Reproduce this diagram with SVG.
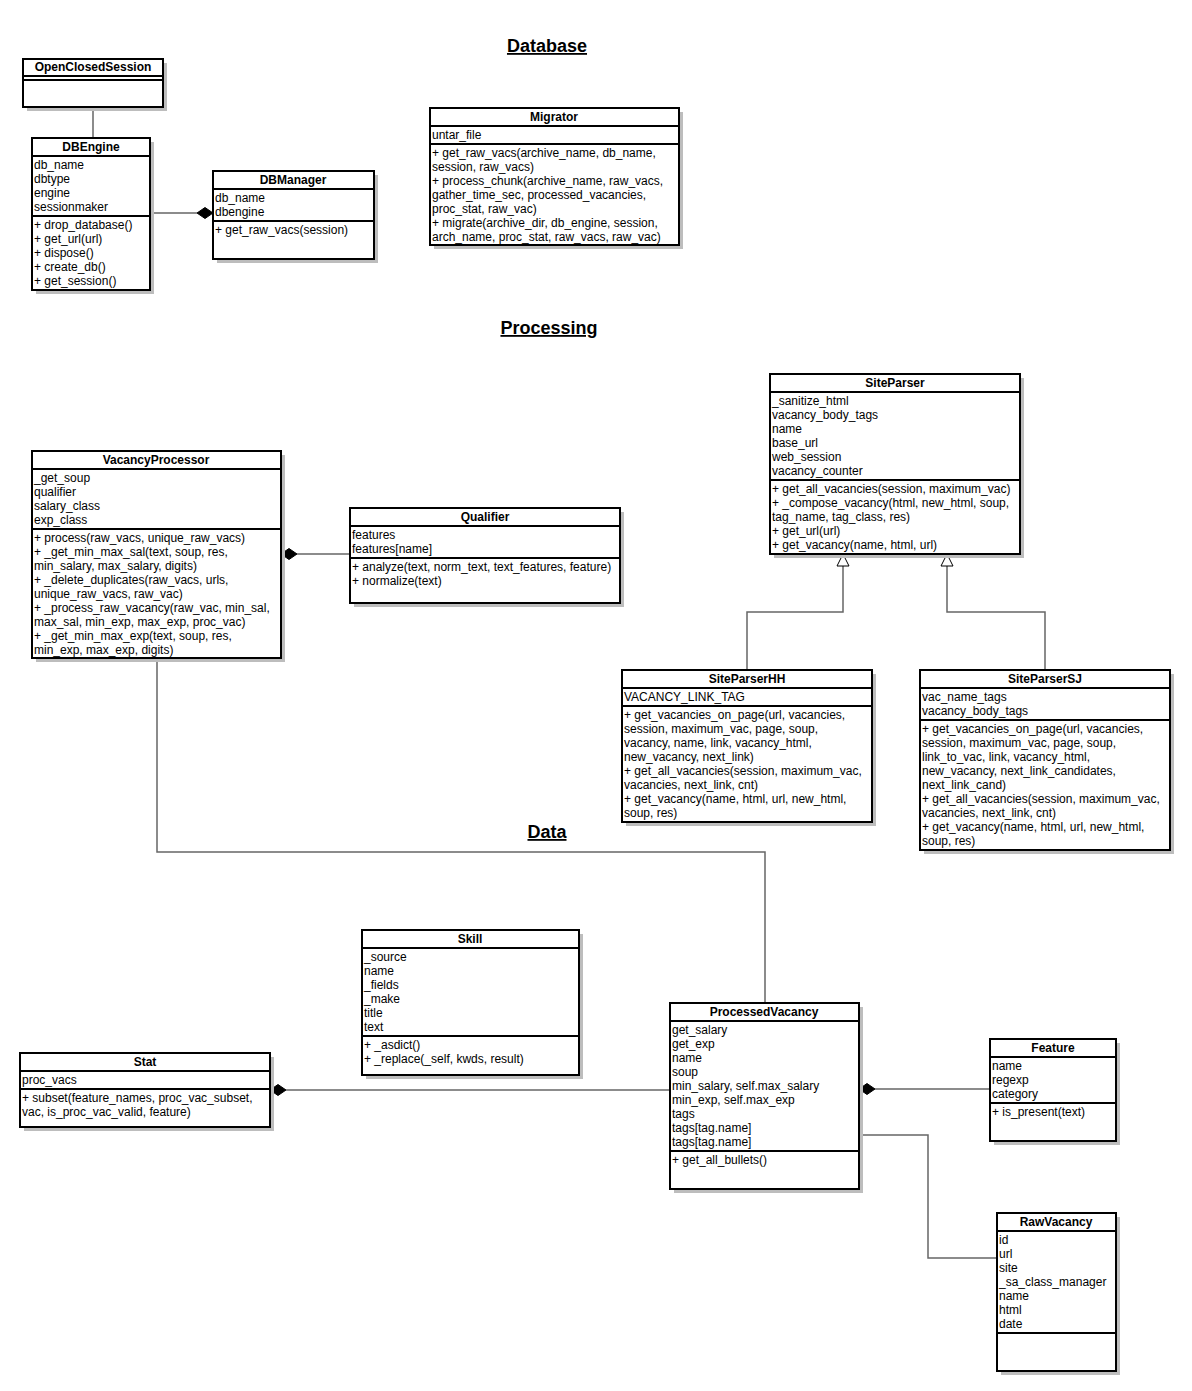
<svg xmlns="http://www.w3.org/2000/svg" width="1192" height="1391" viewBox="0 0 1192 1391">
<style>
.bg{fill:#ffffff}
.sh{fill:#bdbdbd}
.box{fill:#ffffff;stroke:#000000;stroke-width:2}
.sep{stroke:#000000;stroke-width:2}
.t{font-family:"Liberation Sans",Arial,sans-serif;font-size:12px;fill:#000000}
.h{font-family:"Liberation Sans",Arial,sans-serif;font-size:12px;font-weight:bold;fill:#000000;text-anchor:middle}
.sec{font-family:"Liberation Sans",Arial,sans-serif;font-size:18px;font-weight:bold;fill:#000000;text-anchor:middle;text-decoration:underline}
.c{fill:none;stroke:#666666;stroke-width:1.5}
.dia{fill:#000000;stroke:#000000;stroke-width:1}
.tri{fill:#ffffff;stroke:#000000;stroke-width:1}
</style>
<rect class="bg" x="0" y="0" width="1192" height="1391"/>

<g id="titles">
<text class="sec" x="547" y="52">Database</text>
<text class="sec" x="549" y="334">Processing</text>
<text class="sec" x="547" y="838">Data</text>
</g>

<g id="connectors">
<line class="c" x1="93" y1="107" x2="93" y2="138"/>
<line class="c" x1="150" y1="213" x2="197" y2="213"/>
<path class="dia" d="M213,213 L205,207.5 L197,213 L205,218.5 Z"/>
<line class="c" x1="297" y1="554" x2="350" y2="554"/>
<path class="dia" d="M281,554 L289,548.5 L297,554 L289,559.5 Z"/>
<polyline class="c" points="157,658 157,852 765,852 765,1003"/>
<polyline class="c" points="843,566 843,612 747,612 747,670"/>
<path class="tri" d="M843,554 L849,566 L837,566 Z"/>
<polyline class="c" points="947,566 947,612 1045,612 1045,670"/>
<path class="tri" d="M947,554 L953,566 L941,566 Z"/>
<line class="c" x1="286" y1="1090" x2="670" y2="1090"/>
<path class="dia" d="M270,1090 L278,1084.5 L286,1090 L278,1095.5 Z"/>
<line class="c" x1="875" y1="1089" x2="990" y2="1089"/>
<path class="dia" d="M859,1089 L867,1083.5 L875,1089 L867,1094.5 Z"/>
<polyline class="c" points="859,1135 928,1135 928,1258 997,1258"/>
</g>

<g id="OpenClosedSession">
<rect class="sh" x="27" y="63" width="140" height="48"/>
<rect class="box" x="23" y="59" width="140" height="48"/>
<line class="sep" x1="23" y1="76" x2="163" y2="76"/>
<line class="sep" x1="23" y1="80" x2="163" y2="80"/>
<text class="h" x="93" y="71">OpenClosedSession</text>
</g>

<g id="DBEngine">
<rect class="sh" x="36" y="142" width="118" height="152"/>
<rect class="box" x="32" y="138" width="118" height="152"/>
<line class="sep" x1="32" y1="156" x2="150" y2="156"/>
<line class="sep" x1="32" y1="216" x2="150" y2="216"/>
<text class="h" x="91" y="151">DBEngine</text>
<text class="t" x="34" y="169">db_name</text>
<text class="t" x="34" y="183">dbtype</text>
<text class="t" x="34" y="197">engine</text>
<text class="t" x="34" y="211">sessionmaker</text>
<text class="t" x="34" y="229">+ drop_database()</text>
<text class="t" x="34" y="243">+ get_url(url)</text>
<text class="t" x="34" y="257">+ dispose()</text>
<text class="t" x="34" y="271">+ create_db()</text>
<text class="t" x="34" y="285">+ get_session()</text>
</g>

<g id="DBManager">
<rect class="sh" x="217" y="175" width="161" height="88"/>
<rect class="box" x="213" y="171" width="161" height="88"/>
<line class="sep" x1="213" y1="189" x2="374" y2="189"/>
<line class="sep" x1="213" y1="221" x2="374" y2="221"/>
<text class="h" x="293" y="184">DBManager</text>
<text class="t" x="215" y="202">db_name</text>
<text class="t" x="215" y="216">dbengine</text>
<text class="t" x="215" y="234">+ get_raw_vacs(session)</text>
</g>

<g id="Migrator">
<rect class="sh" x="434" y="112" width="249" height="137"/>
<rect class="box" x="430" y="108" width="249" height="137"/>
<line class="sep" x1="430" y1="126" x2="679" y2="126"/>
<line class="sep" x1="430" y1="144" x2="679" y2="144"/>
<text class="h" x="554" y="121">Migrator</text>
<text class="t" x="432" y="139">untar_file</text>
<text class="t" x="432" y="157">+ get_raw_vacs(archive_name, db_name,</text>
<text class="t" x="432" y="171">session, raw_vacs)</text>
<text class="t" x="432" y="185">+ process_chunk(archive_name, raw_vacs,</text>
<text class="t" x="432" y="199">gather_time_sec, processed_vacancies,</text>
<text class="t" x="432" y="213">proc_stat, raw_vac)</text>
<text class="t" x="432" y="227">+ migrate(archive_dir, db_engine, session,</text>
<text class="t" x="432" y="241">arch_name, proc_stat, raw_vacs, raw_vac)</text>
</g>

<g id="VacancyProcessor">
<rect class="sh" x="36" y="455" width="249" height="207"/>
<rect class="box" x="32" y="451" width="249" height="207"/>
<line class="sep" x1="32" y1="469" x2="281" y2="469"/>
<line class="sep" x1="32" y1="529" x2="281" y2="529"/>
<text class="h" x="156" y="464">VacancyProcessor</text>
<text class="t" x="34" y="482">_get_soup</text>
<text class="t" x="34" y="496">qualifier</text>
<text class="t" x="34" y="510">salary_class</text>
<text class="t" x="34" y="524">exp_class</text>
<text class="t" x="34" y="542">+ process(raw_vacs, unique_raw_vacs)</text>
<text class="t" x="34" y="556">+ _get_min_max_sal(text, soup, res,</text>
<text class="t" x="34" y="570">min_salary, max_salary, digits)</text>
<text class="t" x="34" y="584">+ _delete_duplicates(raw_vacs, urls,</text>
<text class="t" x="34" y="598">unique_raw_vacs, raw_vac)</text>
<text class="t" x="34" y="612">+ _process_raw_vacancy(raw_vac, min_sal,</text>
<text class="t" x="34" y="626">max_sal, min_exp, max_exp, proc_vac)</text>
<text class="t" x="34" y="640">+ _get_min_max_exp(text, soup, res,</text>
<text class="t" x="34" y="654">min_exp, max_exp, digits)</text>
</g>

<g id="Qualifier">
<rect class="sh" x="354" y="512" width="270" height="95"/>
<rect class="box" x="350" y="508" width="270" height="95"/>
<line class="sep" x1="350" y1="526" x2="620" y2="526"/>
<line class="sep" x1="350" y1="558" x2="620" y2="558"/>
<text class="h" x="485" y="521">Qualifier</text>
<text class="t" x="352" y="539">features</text>
<text class="t" x="352" y="553">features[name]</text>
<text class="t" x="352" y="571">+ analyze(text, norm_text, text_features, feature)</text>
<text class="t" x="352" y="585">+ normalize(text)</text>
</g>

<g id="SiteParser">
<rect class="sh" x="774" y="378" width="250" height="180"/>
<rect class="box" x="770" y="374" width="250" height="180"/>
<line class="sep" x1="770" y1="392" x2="1020" y2="392"/>
<line class="sep" x1="770" y1="480" x2="1020" y2="480"/>
<text class="h" x="895" y="387">SiteParser</text>
<text class="t" x="772" y="405">_sanitize_html</text>
<text class="t" x="772" y="419">vacancy_body_tags</text>
<text class="t" x="772" y="433">name</text>
<text class="t" x="772" y="447">base_url</text>
<text class="t" x="772" y="461">web_session</text>
<text class="t" x="772" y="475">vacancy_counter</text>
<text class="t" x="772" y="493">+ get_all_vacancies(session, maximum_vac)</text>
<text class="t" x="772" y="507">+ _compose_vacancy(html, new_html, soup,</text>
<text class="t" x="772" y="521">tag_name, tag_class, res)</text>
<text class="t" x="772" y="535">+ get_url(url)</text>
<text class="t" x="772" y="549">+ get_vacancy(name, html, url)</text>
</g>

<g id="SiteParserHH">
<rect class="sh" x="626" y="674" width="250" height="152"/>
<rect class="box" x="622" y="670" width="250" height="152"/>
<line class="sep" x1="622" y1="688" x2="872" y2="688"/>
<line class="sep" x1="622" y1="706" x2="872" y2="706"/>
<text class="h" x="747" y="683">SiteParserHH</text>
<text class="t" x="624" y="701">VACANCY_LINK_TAG</text>
<text class="t" x="624" y="719">+ get_vacancies_on_page(url, vacancies,</text>
<text class="t" x="624" y="733">session, maximum_vac, page, soup,</text>
<text class="t" x="624" y="747">vacancy, name, link, vacancy_html,</text>
<text class="t" x="624" y="761">new_vacancy, next_link)</text>
<text class="t" x="624" y="775">+ get_all_vacancies(session, maximum_vac,</text>
<text class="t" x="624" y="789">vacancies, next_link, cnt)</text>
<text class="t" x="624" y="803">+ get_vacancy(name, html, url, new_html,</text>
<text class="t" x="624" y="817">soup, res)</text>
</g>

<g id="SiteParserSJ">
<rect class="sh" x="924" y="674" width="250" height="180"/>
<rect class="box" x="920" y="670" width="250" height="180"/>
<line class="sep" x1="920" y1="688" x2="1170" y2="688"/>
<line class="sep" x1="920" y1="720" x2="1170" y2="720"/>
<text class="h" x="1045" y="683">SiteParserSJ</text>
<text class="t" x="922" y="701">vac_name_tags</text>
<text class="t" x="922" y="715">vacancy_body_tags</text>
<text class="t" x="922" y="733">+ get_vacancies_on_page(url, vacancies,</text>
<text class="t" x="922" y="747">session, maximum_vac, page, soup,</text>
<text class="t" x="922" y="761">link_to_vac, link, vacancy_html,</text>
<text class="t" x="922" y="775">new_vacancy, next_link_candidates,</text>
<text class="t" x="922" y="789">next_link_cand)</text>
<text class="t" x="922" y="803">+ get_all_vacancies(session, maximum_vac,</text>
<text class="t" x="922" y="817">vacancies, next_link, cnt)</text>
<text class="t" x="922" y="831">+ get_vacancy(name, html, url, new_html,</text>
<text class="t" x="922" y="845">soup, res)</text>
</g>

<g id="Skill">
<rect class="sh" x="366" y="934" width="217" height="145"/>
<rect class="box" x="362" y="930" width="217" height="145"/>
<line class="sep" x1="362" y1="948" x2="579" y2="948"/>
<line class="sep" x1="362" y1="1036" x2="579" y2="1036"/>
<text class="h" x="470" y="943">Skill</text>
<text class="t" x="364" y="961">_source</text>
<text class="t" x="364" y="975">name</text>
<text class="t" x="364" y="989">_fields</text>
<text class="t" x="364" y="1003">_make</text>
<text class="t" x="364" y="1017">title</text>
<text class="t" x="364" y="1031">text</text>
<text class="t" x="364" y="1049">+ _asdict()</text>
<text class="t" x="364" y="1063">+ _replace(_self, kwds, result)</text>
</g>

<g id="Stat">
<rect class="sh" x="24" y="1057" width="250" height="74"/>
<rect class="box" x="20" y="1053" width="250" height="74"/>
<line class="sep" x1="20" y1="1071" x2="270" y2="1071"/>
<line class="sep" x1="20" y1="1089" x2="270" y2="1089"/>
<text class="h" x="145" y="1066">Stat</text>
<text class="t" x="22" y="1084">proc_vacs</text>
<text class="t" x="22" y="1102">+ subset(feature_names, proc_vac_subset,</text>
<text class="t" x="22" y="1116">vac, is_proc_vac_valid, feature)</text>
</g>

<g id="ProcessedVacancy">
<rect class="sh" x="674" y="1007" width="189" height="186"/>
<rect class="box" x="670" y="1003" width="189" height="186"/>
<line class="sep" x1="670" y1="1021" x2="859" y2="1021"/>
<line class="sep" x1="670" y1="1151" x2="859" y2="1151"/>
<text class="h" x="764" y="1016">ProcessedVacancy</text>
<text class="t" x="672" y="1034">get_salary</text>
<text class="t" x="672" y="1048">get_exp</text>
<text class="t" x="672" y="1062">name</text>
<text class="t" x="672" y="1076">soup</text>
<text class="t" x="672" y="1090">min_salary, self.max_salary</text>
<text class="t" x="672" y="1104">min_exp, self.max_exp</text>
<text class="t" x="672" y="1118">tags</text>
<text class="t" x="672" y="1132">tags[tag.name]</text>
<text class="t" x="672" y="1146">tags[tag.name]</text>
<text class="t" x="672" y="1164">+ get_all_bullets()</text>
</g>

<g id="Feature">
<rect class="sh" x="994" y="1043" width="126" height="102"/>
<rect class="box" x="990" y="1039" width="126" height="102"/>
<line class="sep" x1="990" y1="1057" x2="1116" y2="1057"/>
<line class="sep" x1="990" y1="1103" x2="1116" y2="1103"/>
<text class="h" x="1053" y="1052">Feature</text>
<text class="t" x="992" y="1070">name</text>
<text class="t" x="992" y="1084">regexp</text>
<text class="t" x="992" y="1098">category</text>
<text class="t" x="992" y="1116">+ is_present(text)</text>
</g>

<g id="RawVacancy">
<rect class="sh" x="1001" y="1217" width="119" height="158"/>
<rect class="box" x="997" y="1213" width="119" height="158"/>
<line class="sep" x1="997" y1="1231" x2="1116" y2="1231"/>
<line class="sep" x1="997" y1="1333" x2="1116" y2="1333"/>
<text class="h" x="1056" y="1226">RawVacancy</text>
<text class="t" x="999" y="1244">id</text>
<text class="t" x="999" y="1258">url</text>
<text class="t" x="999" y="1272">site</text>
<text class="t" x="999" y="1286">_sa_class_manager</text>
<text class="t" x="999" y="1300">name</text>
<text class="t" x="999" y="1314">html</text>
<text class="t" x="999" y="1328">date</text>
</g>
</svg>
